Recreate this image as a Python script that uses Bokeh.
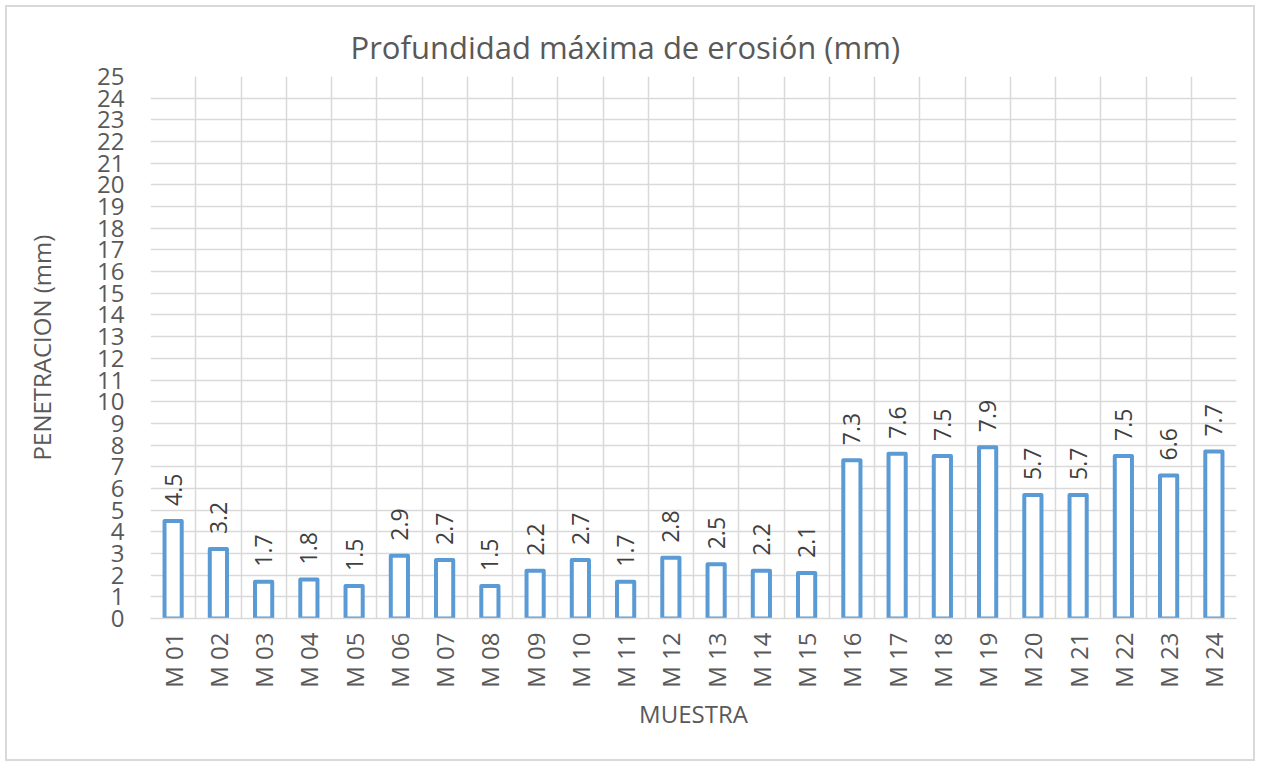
from math import pi
from bokeh.plotting import figure
from bokeh.models import ColumnDataSource, FixedTicker, Title
from bokeh.core.properties import value
from bokeh.embed import file_html
from bokeh.resources import INLINE

categories = ["M 01", "M 02", "M 03", "M 04", "M 05", "M 06", "M 07", "M 08",
              "M 09", "M 10", "M 11", "M 12", "M 13", "M 14", "M 15", "M 16",
              "M 17", "M 18", "M 19", "M 20", "M 21", "M 22", "M 23", "M 24"]
values = [4.5, 3.2, 1.7, 1.8, 1.5, 2.9, 2.7, 1.5, 2.2, 2.7, 1.7, 2.8,
          2.5, 2.2, 2.1, 7.3, 7.6, 7.5, 7.9, 5.7, 5.7, 7.5, 6.6, 7.7]
y_ticks = list(range(0, 26))

xpos = [i + 0.5 for i in range(len(categories))]
src = ColumnDataSource(dict(x=xpos, top=values, lab=[f"{v:.1f}" for v in values]))

FONT = "Open Sans"
GRAY = "#595959"

p = figure(width=1246, height=752, output_backend="svg", toolbar_location=None,
           x_range=(0, len(categories)), y_range=(0, 25),
           min_border_left=143, min_border_right=21, min_border_top=69, min_border_bottom=145)
p.styles = {"border": "2px solid #d9d9d9", "margin": "5px 0 0 5px", "box-sizing": "content-box"}

p.add_layout(Title(text="Profundidad máxima de erosión (mm)", align="left", offset=200,
                   text_font=FONT, text_font_size="31px", text_font_style="normal",
                   text_color=GRAY, standoff=18), "above")

p.vbar(x="x", top="top", width=0.38, source=src, fill_color="white",
       line_color="#5B9BD5", line_width=4, line_join="round")

p.text(x="x", y="top", text="lab", source=src, angle=pi / 2, text_align="left",
       text_baseline="middle", y_offset=-15, text_font=value(FONT),
       text_font_size="23px", text_color="#404040")

# grids
p.xgrid.ticker = FixedTicker(ticks=list(range(len(categories) + 1)))
p.xgrid.grid_line_color = "#d9d9d9"
p.xgrid.grid_line_width = 1.5
p.ygrid.ticker = FixedTicker(ticks=y_ticks)
p.ygrid.grid_line_color = "#d9d9d9"
p.ygrid.grid_line_width = 1.5
p.outline_line_color = None

# x axis
p.xaxis.ticker = FixedTicker(ticks=xpos)
p.xaxis.major_label_overrides = {x: c for x, c in zip(xpos, categories)}
p.xaxis.major_label_orientation = pi / 2
p.xaxis.major_label_standoff = 8
p.xaxis.axis_label = "MUESTRA"
p.xaxis.axis_label_standoff = 6
p.xaxis.axis_line_color = "#d9d9d9"
p.xaxis.axis_line_width = 1.5

# y axis
p.yaxis.ticker = FixedTicker(ticks=y_ticks)
p.yaxis.major_label_standoff = 20
p.yaxis.axis_label = "PENETRACION (mm)"
p.yaxis.axis_label_standoff = 36
p.yaxis.axis_line_color = None

for ax in (p.xaxis, p.yaxis):
    ax.major_tick_line_color = None
    ax.minor_tick_line_color = None
    ax.major_label_text_font = FONT
    ax.major_label_text_font_size = "24px"
    ax.major_label_text_color = GRAY
    ax.axis_label_text_font = FONT
    ax.axis_label_text_font_size = "24px"
    ax.axis_label_text_font_style = "normal"
    ax.axis_label_text_color = GRAY

open("out.html", "w").write(file_html(p, INLINE))
